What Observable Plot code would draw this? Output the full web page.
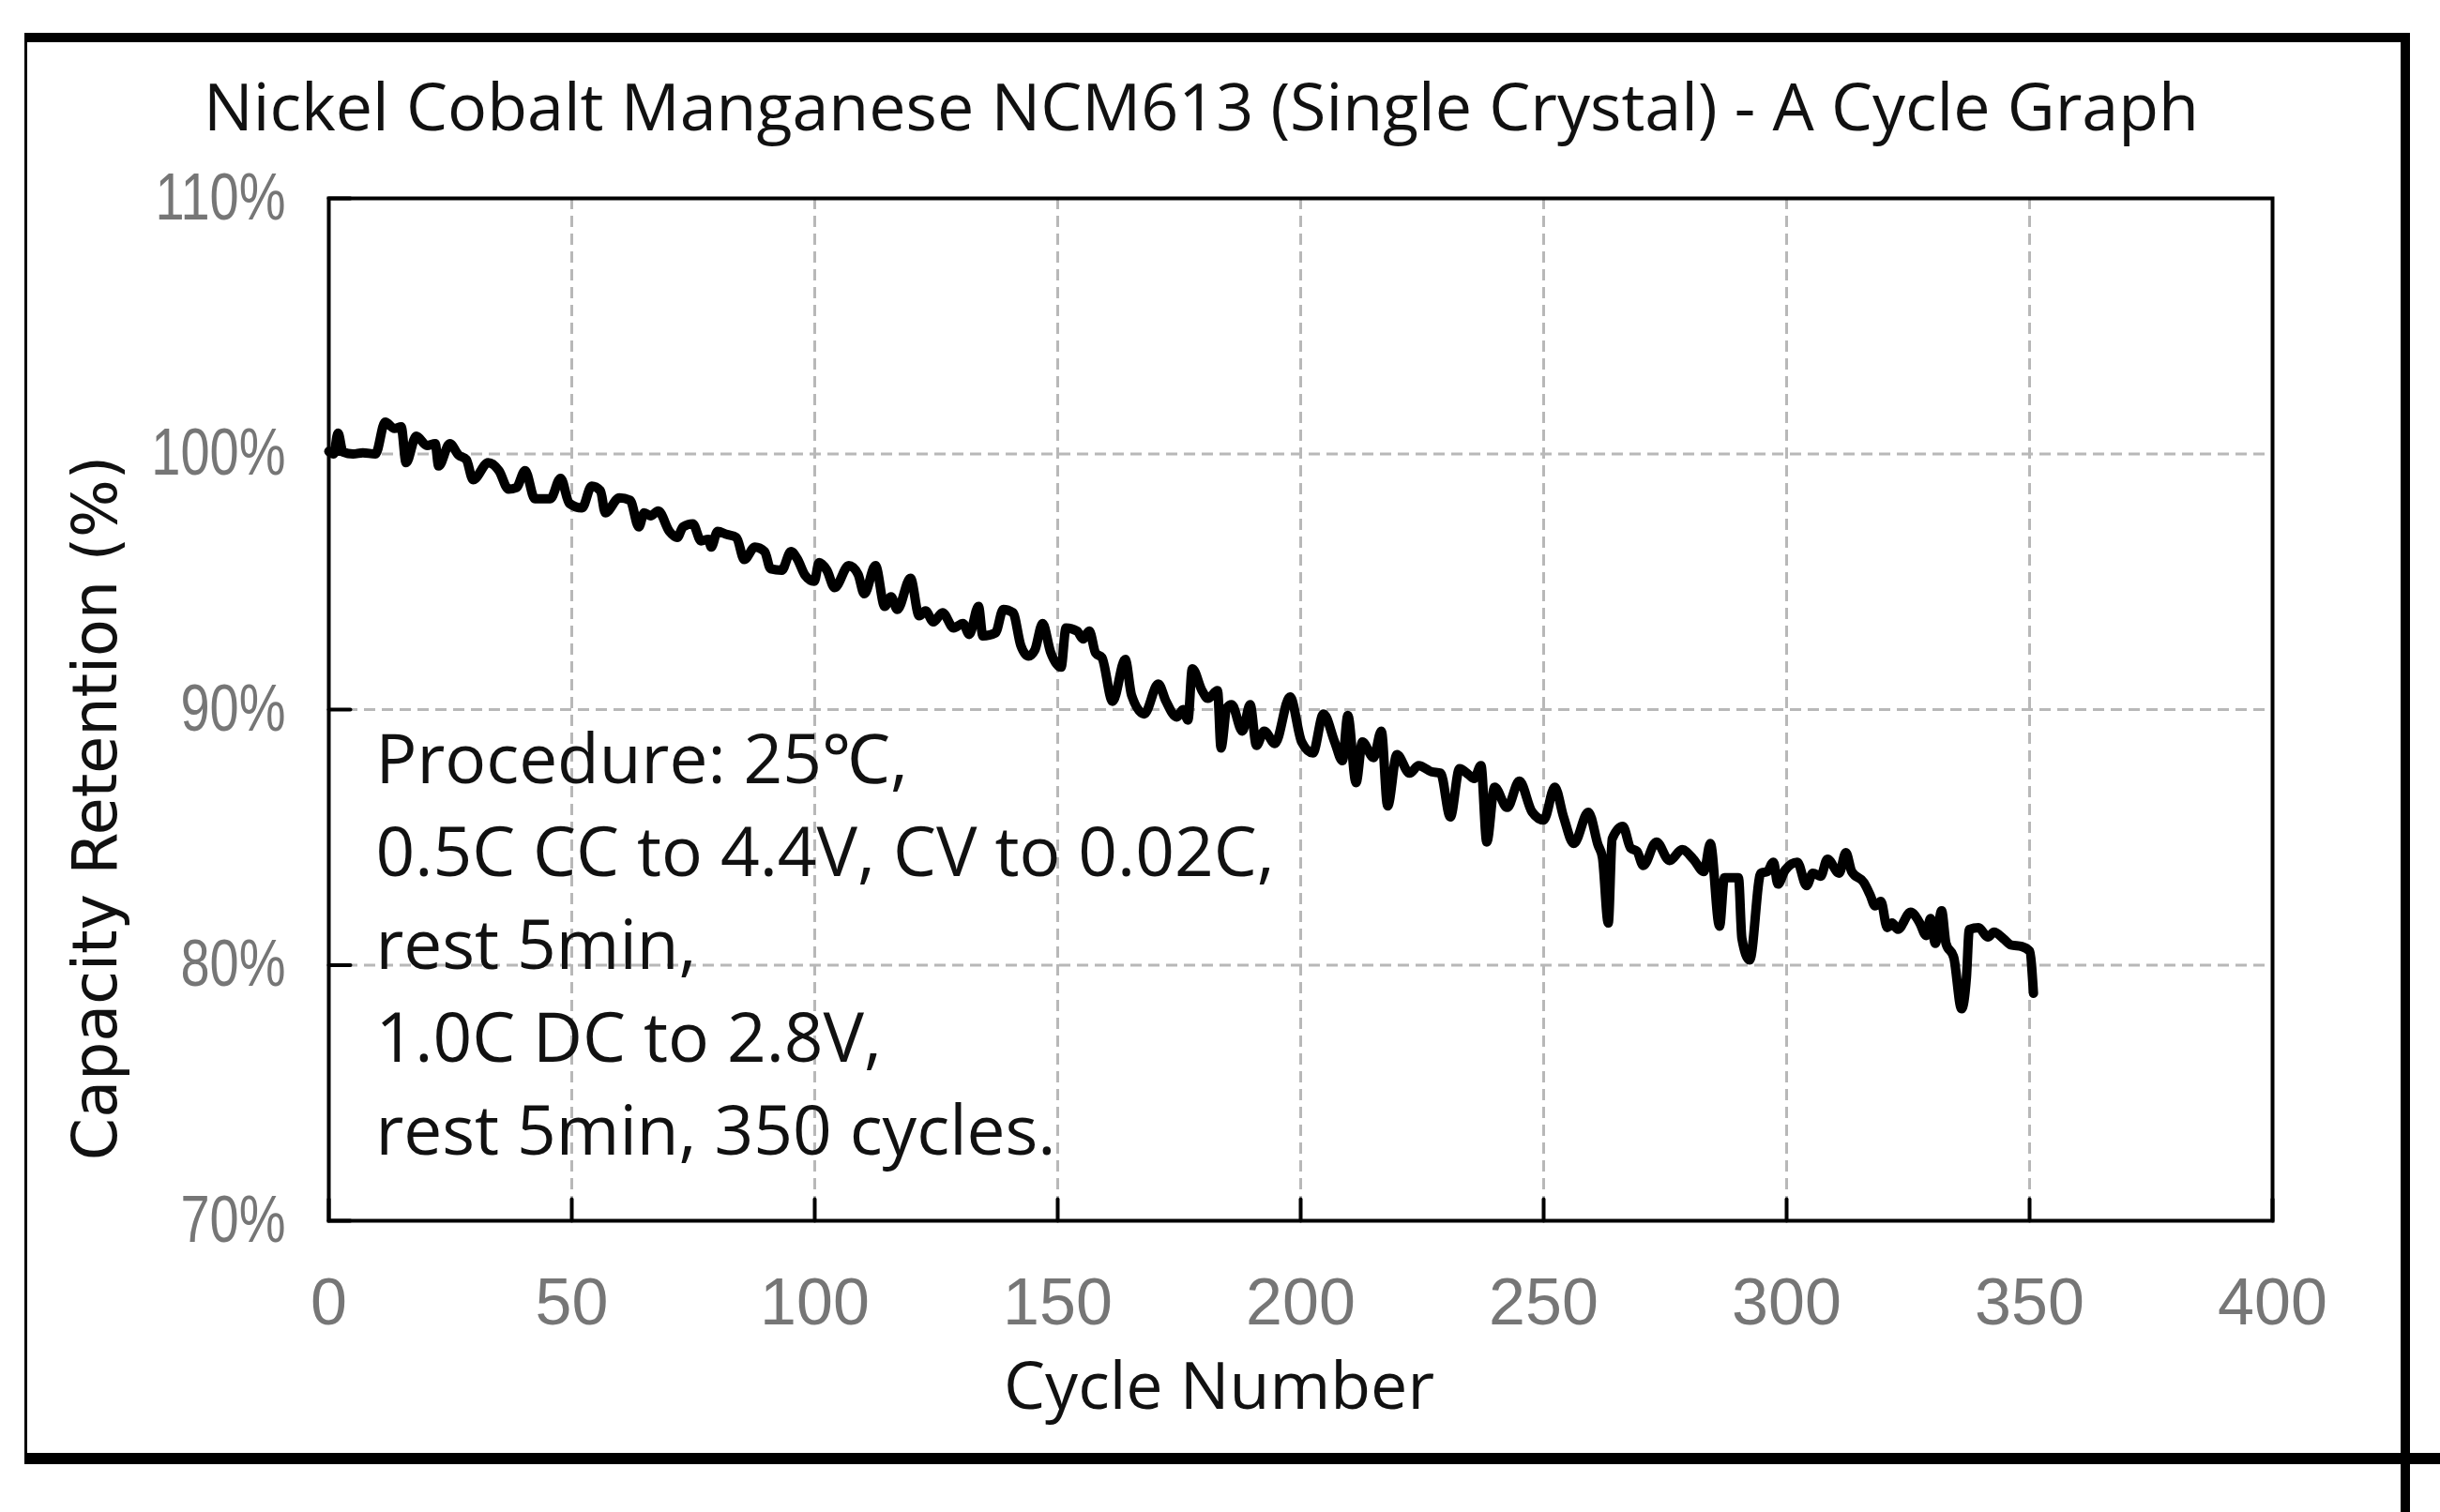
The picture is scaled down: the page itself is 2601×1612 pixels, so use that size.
<!DOCTYPE html>
<html>
<head>
<meta charset="utf-8">
<script src="https://cdn.jsdelivr.net/npm/d3@7"></script>
<script src="https://cdn.jsdelivr.net/npm/@observablehq/plot@0.6"></script>
<style>
  html, body { margin: 0; padding: 0; background: #ffffff; }
  #chart { width: 2601px; height: 1612px; }
</style>
</head>
<body>
<div id="chart"></div>
<script>
const title = "Nickel Cobalt Manganese NCM613 (Single Crystal) - A Cycle Graph";
const xLabel = "Cycle Number";
const yLabel = "Capacity Retention (%)";
const procedureLines = [
  "Procedure: 25\u2103,",
  "0.5C CC to 4.4V, CV to 0.02C,",
  "rest 5min,",
  "1.0C DC to 2.8V,",
  "rest 5min, 350 cycles."
];

const xTicks = [0, 50, 100, 150, 200, 250, 300, 350, 400];
const yTicks = [70, 80, 90, 100, 110];
const xGrid = [50, 100, 150, 200, 250, 300, 350];
const yGrid = [80, 90, 100];

const cycles = [
  0, 1, 1.9, 2.9, 5, 7, 9.6, 11.6, 13.5, 14.9,
  15.9, 18.0, 20.2, 21.9, 22.6, 24.9, 26.7, 28.3, 29.7, 32.8,
  35.0, 37.0, 38.6, 40.4, 42.4, 45.6, 47.7, 49.5, 52.1, 54.1,
  55.9, 56.9, 59.8, 62.0, 63.8, 64.9, 66.2, 67.8, 70.1, 71.7,
  72.9, 74.9, 76.6, 78.1, 78.7, 80.0, 81.9, 83.9, 85.5, 87.7,
  89.7, 90.9, 93.2, 95.1, 96.4, 98.0, 99.9, 100.9, 102.5, 104.1,
  107.0, 108.9, 110.2, 112.5, 114.4, 115.7, 117.0, 119.7, 121.5, 122.8,
  124.4, 126.3, 128.6, 130.5, 131.8, 133.7, 134.6, 137.2, 138.8, 140.8,
  142.4, 144.0, 145.3, 146.9, 148.5, 150.7, 151.7, 154.0, 155.2, 156.5,
  157.8, 159.1, 161.3, 163.9, 165.2, 167.8, 170.7, 172.3, 174.5, 175.8,
  176.8, 177.7, 179.7, 180.9, 182.9, 183.6, 184.8, 185.8, 188.0, 189.6,
  190.9, 192.5, 194.7, 197.8, 200.2, 202.5, 204.7, 207.0, 208.6, 209.7,
  211.4, 212.7, 215.0, 216.6, 217.9, 219.8, 222.4, 224.3, 226.9, 228.8,
  230.8, 232.7, 234.6, 235.7, 237.1, 238.3, 239.9, 242.5, 245.0, 247.6,
  250.0, 252.3, 254.1, 256.2, 259.2, 261.2, 262.1, 263.3, 264.1, 266.3,
  267.9, 269.2, 270.5, 273.2, 275.9, 278.5, 280.8, 283.0, 284.3, 286.2,
  287.2, 290.1, 290.8, 292.4, 294.7, 296.0, 297.3, 298.2, 299.7, 302.2,
  304.1, 305.4, 307.0, 308.4, 310.8, 312.2, 313.4, 315.9, 317.2, 318.2,
  319.4, 320.7, 321.7, 322.9, 325.5, 327.4, 328.7, 329.6, 330.6, 331.9,
  332.8, 334.4, 336.0, 337.0, 337.6, 339.5, 341.4, 342.7, 344.6, 346.2,
  348.4, 350.0, 350.8
];

const retention = [
  100.1, 100.0, 100.82, 100.08, 100.0, 100.05, 100.0, 101.25, 101.0, 101.06,
  99.66, 100.7, 100.33, 100.4, 99.53, 100.4, 99.96, 99.78, 98.99, 99.66,
  99.35, 98.62, 98.68, 99.35, 98.25, 98.25, 99.05, 98.07, 97.89, 98.74,
  98.56, 97.70, 98.28, 98.19, 97.15, 97.70, 97.58, 97.77, 96.97, 96.73,
  97.15, 97.27, 96.60, 96.66, 96.36, 96.97, 96.85, 96.73, 95.87, 96.36,
  96.18, 95.51, 95.45, 96.18, 95.9, 95.26, 95.02, 95.75, 95.45, 94.77,
  95.63, 95.3, 94.53, 95.63, 94.04, 94.41, 93.92, 95.14, 93.67, 93.86,
  93.43, 93.79, 93.19, 93.37, 92.94, 94.04, 92.88, 93.0, 93.92, 93.79,
  92.51, 92.09, 92.33, 93.37, 92.27, 91.66, 93.19, 93.07, 92.76, 93.07,
  92.21, 92.03, 90.32, 91.96, 90.56, 89.83, 91.0, 90.32, 89.71, 90.0,
  89.59, 91.6, 90.74, 90.44, 90.74, 88.5, 90.07, 90.19, 89.16, 90.19,
  88.6, 89.16, 88.67, 90.5, 88.73, 88.3, 89.83, 88.73, 88.0, 89.77,
  87.14, 88.73, 88.12, 89.16, 86.23, 88.24, 87.51, 87.81, 87.57, 87.51,
  85.8, 87.69, 87.45, 87.3, 87.81, 84.82, 86.96, 86.17, 87.2, 86.0,
  85.68, 86.96, 85.8, 84.76, 85.98, 84.7, 84.21, 81.65, 84.94, 85.43,
  84.58, 84.46, 83.9, 84.82, 84.09, 84.52, 84.15, 83.66, 84.76, 81.52,
  83.42, 83.42, 81.04, 80.2, 83.6, 83.66, 84.03, 83.17, 83.72, 84.03,
  83.11, 83.6, 83.48, 84.15, 83.6, 84.4, 83.66, 83.23, 82.74, 82.32,
  82.5, 81.47, 81.65, 81.4, 82.07, 81.65, 81.16, 81.83, 80.85, 82.13,
  80.85, 80.3, 78.29, 79.5, 81.4, 81.47, 81.1, 81.29, 81.04, 80.79,
  80.73, 80.55, 78.9
];

const rows = cycles.map((c, i) => ({cycle: c, retention: retention[i]}));

const tickShape = {
  draw(context, l) {
    context.moveTo(0, 0);
    context.lineTo(0, -l);
  }
};

const gridStyle = {stroke: "#b8b8b8", strokeOpacity: 1, strokeWidth: 3, strokeDasharray: "12,7"};

const chart = Plot.plot({
  width: 2601,
  height: 1612,
  marginLeft: 350,
  marginRight: 179,
  marginTop: 211,
  marginBottom: 311,
  style: {background: "#ffffff", fontFamily: "'Open Sans', sans-serif", overflow: "visible"},
  x: {domain: [0, 400], label: null},
  y: {domain: [70, 110], label: null},
  marks: [
    Plot.gridX(xGrid, gridStyle),
    Plot.gridY(yGrid, gridStyle),
    Plot.line(rows, {x: "cycle", y: "retention", curve: "monotone-x", stroke: "#000", strokeWidth: 10, strokeLinejoin: "round", strokeLinecap: "round"}),
    Plot.frame({stroke: "#000", strokeWidth: 4}),
    Plot.vector(xTicks, {x: d => d, y: 70, length: 23, rotate: 0, anchor: "start", shape: tickShape, stroke: "#000", strokeWidth: 4}),
    Plot.vector(yTicks, {x: 0, y: d => d, length: 23, rotate: 90, anchor: "start", shape: tickShape, stroke: "#000", strokeWidth: 4}),
    Plot.axisX(xTicks, {tickSize: 0, tickPadding: 61, fontSize: 70, fontFamily: "'Liberation Sans', Arial, sans-serif", fill: "#767676", tickFormat: d => String(d), label: null}),
    Plot.axisY(yTicks, {tickSize: 0, tickPadding: 46, fontSize: 70, fontFamily: "'Liberation Sans', Arial, sans-serif", fill: "#767676", tickFormat: d => d + "%", label: null, className: "ytick-labels"}),
    Plot.text([title], {frameAnchor: "top", dx: -106, dy: -73, lineAnchor: "bottom", textAnchor: "middle", fontSize: 70, fill: "#111"}),
    Plot.text([xLabel], {frameAnchor: "bottom", dx: -87, dy: 200, lineAnchor: "bottom", textAnchor: "middle", fontSize: 70, fill: "#111"}),
    Plot.text([yLabel], {frameAnchor: "left", rotate: -90, dx: -247, dy: 105, lineAnchor: "middle", textAnchor: "middle", fontSize: 65, fontFamily: "'DejaVu Sans', sans-serif", fill: "#111"}),
    Plot.text([procedureLines.join("\n")], {frameAnchor: "bottom-left", dx: 50, dy: -71, lineAnchor: "bottom", textAnchor: "start", fontSize: 73, lineHeight: 99 / 73, fill: "#111"})
  ]
});

const svg = d3.select(chart);
const border = svg.append("g").attr("stroke", "#000").attr("fill", "none");
border.append("line").attr("x1", 26).attr("y1", 40).attr("x2", 2569).attr("y2", 40).attr("stroke-width", 10);
border.append("line").attr("x1", 27.5).attr("y1", 36).attr("x2", 27.5).attr("y2", 1556).attr("stroke-width", 3);
border.append("line").attr("x1", 26).attr("y1", 1555).attr("x2", 2601).attr("y2", 1555).attr("stroke-width", 12);
border.append("line").attr("x1", 2564).attr("y1", 35).attr("x2", 2564).attr("y2", 1612).attr("stroke-width", 10);

document.getElementById("chart").appendChild(chart);

// narrow the y tick labels (the reference uses a condensed face)
svg.selectAll(".ytick-labels text").each(function () {
  const w = this.getComputedTextLength();
  this.setAttribute("textLength", (w * 0.8).toFixed(1));
  this.setAttribute("lengthAdjust", "spacingAndGlyphs");
});
</script>
</body>
</html>
